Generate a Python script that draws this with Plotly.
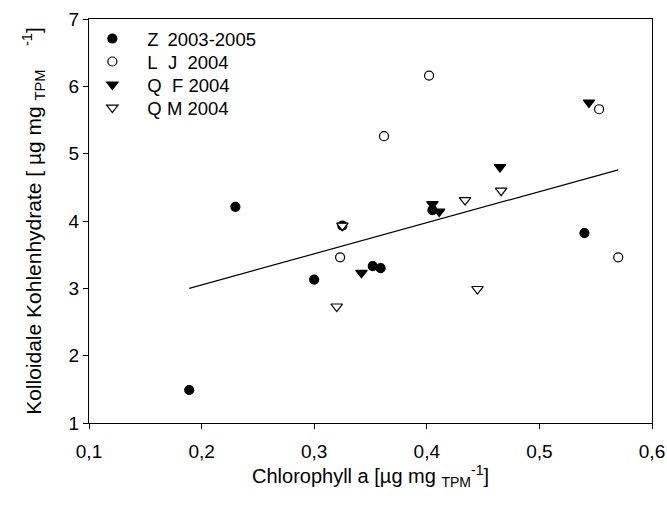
import plotly.graph_objects as go

# Chlorophyll a [µg mg TPM^-1] vs. colloidal carbohydrates [µg mg TPM^-1]
z_x = [0.189, 0.230, 0.300, 0.325, 0.352, 0.359, 0.405, 0.540]
z_y = [1.49, 4.21, 3.13, 3.93, 3.33, 3.30, 4.16, 3.82]

lj_x = [0.323, 0.362, 0.402, 0.553, 0.570]
lj_y = [3.46, 5.26, 6.16, 5.66, 3.46]

qf_x = [0.342, 0.405, 0.411, 0.465, 0.544]
qf_y = [3.23, 4.25, 4.14, 4.80, 5.76]

qm_x = [0.320, 0.325, 0.434, 0.445, 0.466]
qm_y = [2.73, 3.93, 4.31, 2.99, 4.45]

# linear regression line over all stations
fit_x = [0.189, 0.570]
fit_y = [3.00, 4.76]

NB = "\u00a0"
TS = "\u2009"
series = [
    (f"Z{NB}{TS}2003-2005", z_x, z_y, "circle", "black", 9),
    (f"L{NB}{NB}J{NB}{NB}2004", lj_x, lj_y, "circle-open", "black", 9),
    (f"Q{NB}{NB}F{NB}2004", qf_x, qf_y, "triangle-down", "black", 10),
    (f"Q{NB}M{NB}2004", qm_x, qm_y, "triangle-down", "white", 10),
]
legend_rows = [0.9505, 0.8936, 0.8366, 0.7797]
legend_ids = ["legend", "legend2", "legend3", "legend4"]

fig = go.Figure()
fig.add_trace(go.Scatter(x=fit_x, y=fit_y, mode="lines",
                         line=dict(color="black", width=1.2),
                         showlegend=False, hoverinfo="skip"))

for i, (name, xs, ys, sym, fill, size) in enumerate(series):
    mk = dict(symbol=sym, size=size, color=fill,
              line=dict(color="black", width=1.2))
    if sym == "circle-open":
        mk = dict(symbol=sym, size=size, color="black", line=dict(width=1.2))
    fig.add_trace(go.Scatter(x=xs, y=ys, mode="markers", name=name,
                             marker=mk, legend=legend_ids[i]))

FONT = "Liberation Sans, Arial, sans-serif"
axis_common = dict(
    showline=True, linecolor="black", linewidth=1, mirror=True,
    ticks="outside", ticklen=5, tickcolor="black", tickwidth=1,
    showgrid=False, zeroline=False, automargin=False,
    tickfont=dict(family=FONT, size=19, color="black"),
)

legend_layout = {}
for lid, ly in zip(legend_ids, legend_rows):
    legend_layout[lid] = dict(x=-0.0207, y=ly, xanchor="left", yanchor="middle",
                              bgcolor="rgba(0,0,0,0)", borderwidth=0,
                              font=dict(size=18.5), itemwidth=60)

fig.update_layout(
    width=667, height=508,
    margin=dict(l=89, r=15, t=19, b=85),
    paper_bgcolor="white", plot_bgcolor="white",
    font=dict(family=FONT, color="black"),
    separators=",.",
    xaxis=dict(range=[0.1, 0.6], tickvals=[0.1, 0.2, 0.3, 0.4, 0.5, 0.6],
               tickformat=".1f", ticklabelstandoff=6,
               title=dict(text=f"{NB}{NB}{NB}Chlorophyll a [µg mg <sub>TPM</sub><sup>-1</sup>]",
                          font=dict(size=20), standoff=7),
               **axis_common),
    yaxis=dict(range=[1, 7], tickvals=[1, 2, 3, 4, 5, 6, 7],
               title=dict(text=f"Kolloidale Kohlenhydrate [{NB}µg mg <sub>TPM</sub>{NB}{NB}{NB}{NB}<sup>-1</sup>]",
                          font=dict(size=21), standoff=21),
               **axis_common),
    **legend_layout,
)

fig.write_html("out.html")
